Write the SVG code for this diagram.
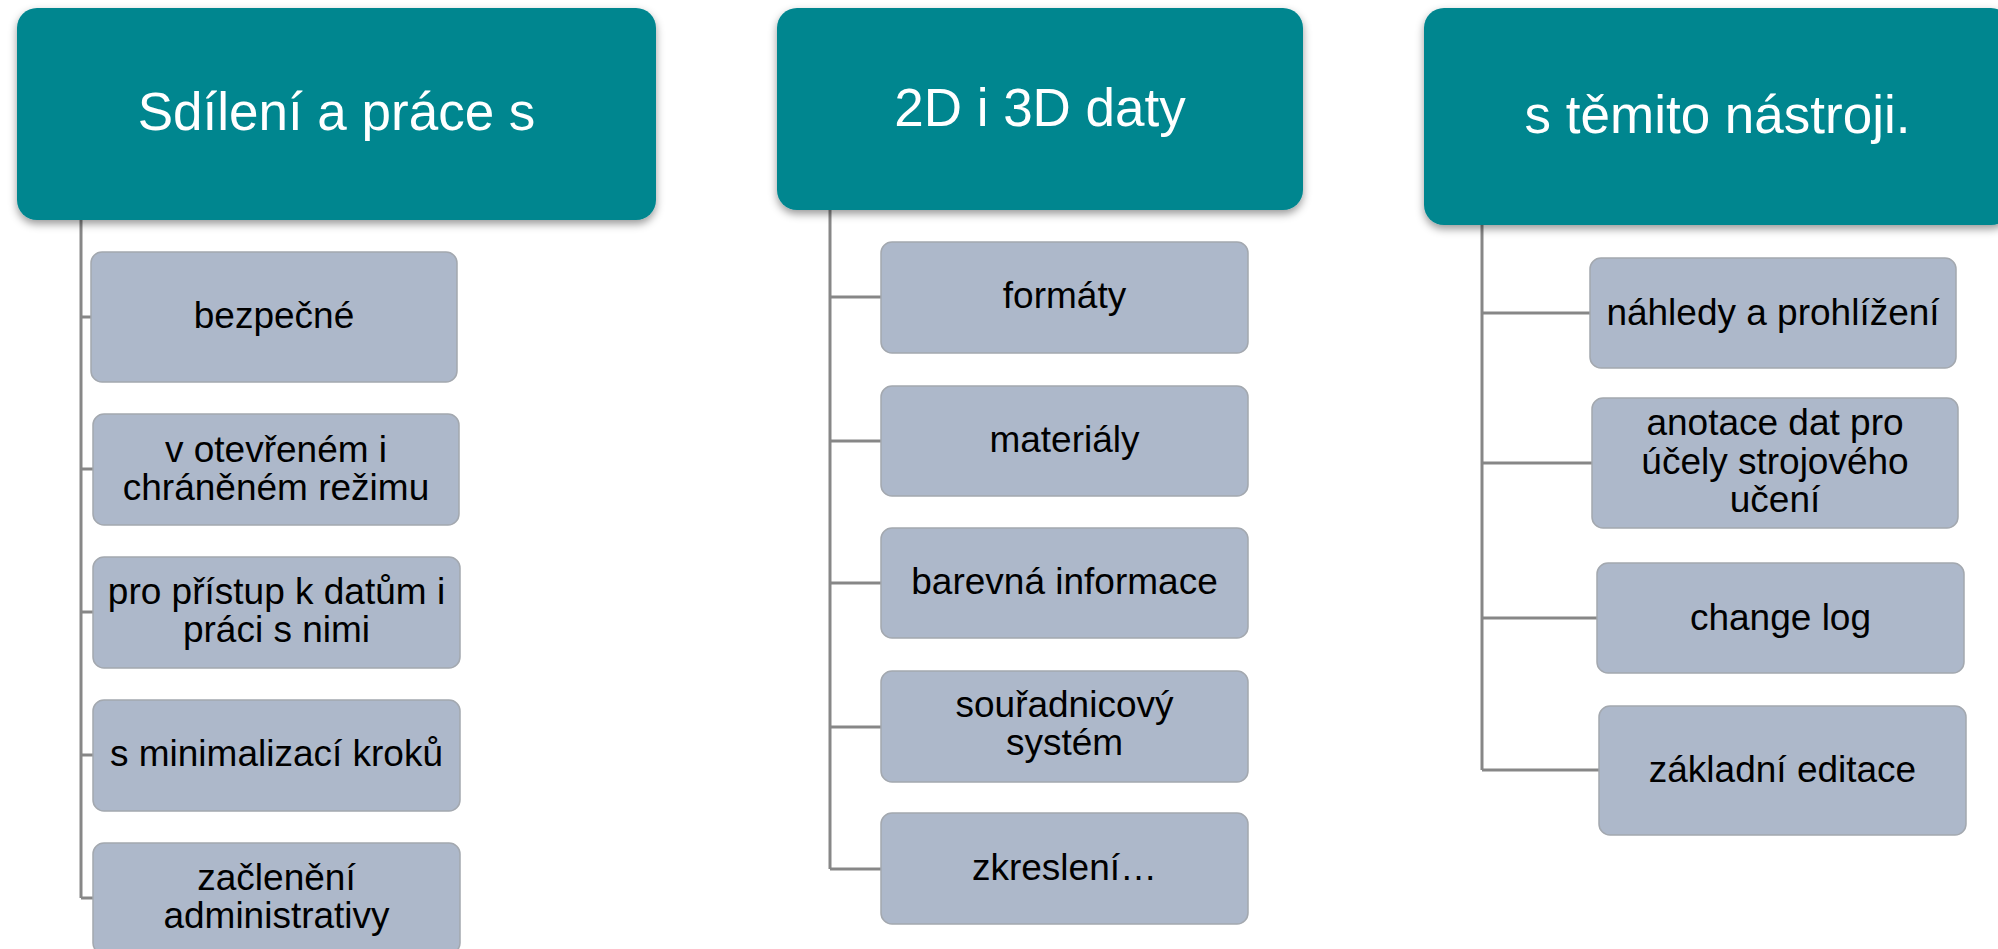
<svg xmlns="http://www.w3.org/2000/svg" width="1998" height="949" viewBox="0 0 1998 949">
<style>
.hdr{fill:#03868F;filter:url(#sh)}
.hdr-t{font-family:"Liberation Sans",Arial,sans-serif;font-size:53px;fill:#FFFFFF;text-anchor:middle}
.box{fill:#ADB8CA;stroke:#A3A8AF;stroke-width:1.5}
.box-t{font-family:"Liberation Sans",Arial,sans-serif;font-size:37px;fill:#000000;text-anchor:middle}
.conn{fill:none;stroke:#878787;stroke-width:3}
</style>
<defs>
<filter id="sh" x="-5%" y="-10%" width="110%" height="125%">
<feDropShadow dx="0" dy="4" stdDeviation="4" flood-color="#000" flood-opacity="0.4"/>
</filter>
</defs>
<rect width="1998" height="949" fill="#FFFFFF"/>
<g id="connectors">
<path class="conn" d="M81 220 V898 M81 317 H91 M81 469 H93 M81 612 H93 M81 755 H93 M81 898 H93"/>
<path class="conn" d="M830 210 V869 M830 297 H881 M830 441 H881 M830 583 H881 M830 727 H881 M830 869 H881"/>
<path class="conn" d="M1482 225 V770 M1482 313 H1590 M1482 463 H1592 M1482 618 H1597 M1482 770 H1599"/>
</g>
<g id="h1"><rect class="hdr" x="17" y="8" width="639" height="212" rx="20"/><text class="hdr-t" x="336.5" y="130">Sdílení a práce s</text></g>
<g id="h2"><rect class="hdr" x="777" y="8" width="526" height="202" rx="20"/><text class="hdr-t" x="1040" y="126">2D i 3D daty</text></g>
<g id="h3"><rect class="hdr" x="1424" y="8" width="587" height="217" rx="20"/><text class="hdr-t" x="1717.5" y="133">s těmito nástroji.</text></g>

<g id="c1a"><rect class="box" x="91" y="252" width="366" height="130" rx="11"/><text class="box-t" x="274" y="328">bezpečné</text></g>
<g id="c1b"><rect class="box" x="93" y="414" width="366" height="111" rx="11"/><text class="box-t" x="276" y="462">v otevřeném i<tspan x="276" dy="38">chráněném režimu</tspan></text></g>
<g id="c1c"><rect class="box" x="93" y="557" width="367" height="111" rx="11"/><text class="box-t" x="276.5" y="604">pro přístup k datům i<tspan x="276.5" dy="38">práci s nimi</tspan></text></g>
<g id="c1d"><rect class="box" x="93" y="700" width="367" height="111" rx="11"/><text class="box-t" x="276.5" y="766">s minimalizací kroků</text></g>
<g id="c1e"><rect class="box" x="93" y="843" width="367" height="111" rx="11"/><text class="box-t" x="276.5" y="890">začlenění<tspan x="276.5" dy="38">administrativy</tspan></text></g>

<g id="c2a"><rect class="box" x="881" y="242" width="367" height="111" rx="11"/><text class="box-t" x="1064.5" y="308">formáty</text></g>
<g id="c2b"><rect class="box" x="881" y="386" width="367" height="110" rx="11"/><text class="box-t" x="1064.5" y="452">materiály</text></g>
<g id="c2c"><rect class="box" x="881" y="528" width="367" height="110" rx="11"/><text class="box-t" x="1064.5" y="594">barevná informace</text></g>
<g id="c2d"><rect class="box" x="881" y="671" width="367" height="111" rx="11"/><text class="box-t" x="1064.5" y="717">souřadnicový<tspan x="1064.5" dy="38">systém</tspan></text></g>
<g id="c2e"><rect class="box" x="881" y="813" width="367" height="111" rx="11"/><text class="box-t" x="1064.5" y="880">zkreslení…</text></g>

<g id="c3a"><rect class="box" x="1590" y="258" width="366" height="110" rx="11"/><text class="box-t" x="1773" y="325">náhledy a prohlížení</text></g>
<g id="c3b"><rect class="box" x="1592" y="398" width="366" height="130" rx="11"/><text class="box-t" x="1775" y="435">anotace dat pro<tspan x="1775" dy="38.5">účely strojového</tspan><tspan x="1775" dy="38.5">učení</tspan></text></g>
<g id="c3c"><rect class="box" x="1597" y="563" width="367" height="110" rx="11"/><text class="box-t" x="1780.5" y="630">change log</text></g>
<g id="c3d"><rect class="box" x="1599" y="706" width="367" height="129" rx="11"/><text class="box-t" x="1782.5" y="782">základní editace</text></g>
</svg>
